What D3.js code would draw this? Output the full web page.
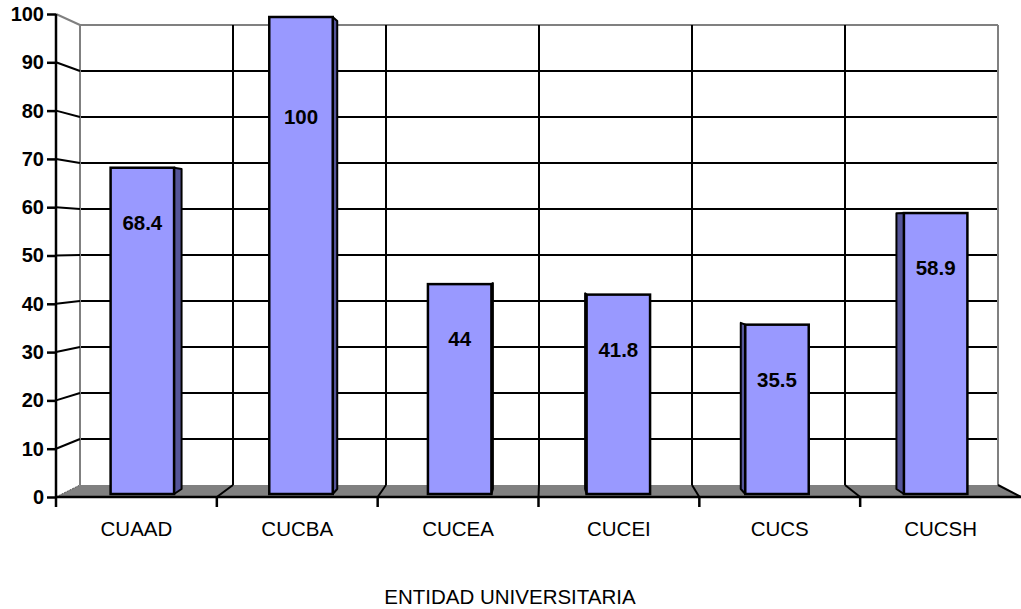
<!DOCTYPE html>
<html>
<head>
<meta charset="utf-8">
<script src="https://cdn.jsdelivr.net/npm/d3@7"></script>
<style>
  body { margin: 0; background: #fff; }
  text { font-family: Arial, "Liberation Sans", sans-serif; }
</style>
</head>
<body>
<div id="chart"></div>
<script>
var categories = ["CUAAD", "CUCBA", "CUCEA", "CUCEI", "CUCS", "CUCSH"];
var values = [68.4, 100, 44, 41.8, 35.5, 58.9];
var yTicks = [0, 10, 20, 30, 40, 50, 60, 70, 80, 90, 100];
var xTitle = "ENTIDAD UNIVERSITARIA";

var width = 1021, height = 609;

var svg = d3.select("#chart").append("svg")
    .attr("width", width)
    .attr("height", height);

// front plane (axis), back wall and the plane the bars stand in
var yFront = d3.scaleLinear().domain([0, 100]).range([497, 14]);
var yBack = d3.scaleLinear().domain([0, 100]).range([485, 25]);
var yBar = d3.scaleLinear().domain([0, 100]).range([494, 17]);
var yBarBack = d3.scaleLinear().domain([0, 100]).range([489, 21]);

var xFront = d3.scaleBand().domain(categories).range([56, 1021]);
var xBack = d3.scaleBand().domain(categories).range([80, 998]);
var xBar = d3.scaleBand().domain(categories).range([63, 1015])
    .paddingInner(0.6).paddingOuter(0.3);

var gray = "#808080";

// back wall
var wall = svg.append("g");
wall.append("line").attr("x1", 80).attr("x2", 80).attr("y1", yBack(100)).attr("y2", yBack(0))
    .attr("stroke", gray).attr("stroke-width", 2);
wall.append("line").attr("x1", 80).attr("x2", 998).attr("y1", yBack(100)).attr("y2", yBack(100))
    .attr("stroke", gray).attr("stroke-width", 2);
wall.append("line").attr("x1", 998).attr("x2", 998).attr("y1", yBack(100)).attr("y2", yBack(0))
    .attr("stroke", gray).attr("stroke-width", 2);

// horizontal gridlines (back wall + side wall)
var gridVals = yTicks.filter(function(d) { return d > 0 && d < 100; });
wall.selectAll(".hgrid").data(gridVals).enter().append("line")
    .attr("x1", 81).attr("x2", 997)
    .attr("y1", function(d) { return yBack(d); })
    .attr("y2", function(d) { return yBack(d); })
    .attr("stroke", "#000").attr("stroke-width", 2);
wall.selectAll(".sgrid").data(yTicks.filter(function(d) { return d > 0; })).enter().append("line")
    .attr("x1", 56).attr("x2", 80)
    .attr("y1", function(d) { return yFront(d); })
    .attr("y2", function(d) { return yBack(d); })
    .attr("stroke", function(d) { return d === 100 ? gray : "#000"; })
    .attr("stroke-width", 2);

// vertical gridlines on back wall
var inner = categories.slice(1);
wall.selectAll(".vgrid").data(inner).enter().append("line")
    .attr("x1", function(d) { return xBack(d); })
    .attr("x2", function(d) { return xBack(d); })
    .attr("y1", yBack(100)).attr("y2", yBack(0))
    .attr("stroke", "#000").attr("stroke-width", 2);

// floor
svg.append("path")
    .attr("d", "M56," + yFront(0) + "L80," + yBack(0) + "L998," + yBack(0) + "L1021," + yFront(0) + "Z")
    .attr("fill", gray);
svg.append("line").attr("x1", 998).attr("y1", yBack(0)).attr("x2", 1021).attr("y2", yFront(0))
    .attr("stroke", "#000").attr("stroke-width", 2);
svg.append("line").attr("x1", 56).attr("y1", yFront(0)).attr("x2", 80).attr("y2", yBack(0))
    .attr("stroke", "#555").attr("stroke-width", 1).attr("stroke-dasharray", "2,1");

svg.selectAll(".fgrid").data(inner).enter().append("line")
    .attr("x1", function(d) { return xBack(d); })
    .attr("y1", yBack(0))
    .attr("x2", function(d) { return xFront(d); })
    .attr("y2", yFront(0))
    .attr("stroke", "#000").attr("stroke-width", 2);

// bars
var bars = svg.selectAll(".bar").data(values).enter().append("g");
var bw = xBar.bandwidth();
function depth(i) { return (2.5 - i) * 3; }

bars.append("path")
    .attr("d", function(d, i) {
        var dx = depth(i);
        var x0 = xBar(categories[i]);
        var xe = dx > 0 ? x0 + bw : x0;
        return "M" + xe + "," + yBar(d) +
            "L" + (xe + dx) + "," + yBarBack(d) +
            "L" + (xe + dx) + "," + yBarBack(0) +
            "L" + xe + "," + yBar(0) + "Z";
    })
    .attr("fill", "#555599")
    .attr("stroke", "#000")
    .attr("stroke-width", 2)
    .attr("stroke-linejoin", "round");

bars.append("rect")
    .attr("x", function(d, i) { return xBar(categories[i]); })
    .attr("y", function(d) { return yBar(d); })
    .attr("width", bw)
    .attr("height", function(d) { return yBar(0) - yBar(d); })
    .attr("fill", "#9999FF")
    .attr("stroke", "#000")
    .attr("stroke-width", 2.5);

bars.append("text")
    .attr("x", function(d, i) { return xBar(categories[i]) + bw / 2; })
    .attr("y", function(d) { return Math.max(yBar(d) + 55, yBar(79)); })
    .attr("dy", "0.35em")
    .attr("text-anchor", "middle")
    .attr("font-size", "20.5px")
    .attr("font-weight", "bold")
    .text(function(d) { return d; });

// front axes
svg.append("line").attr("x1", 56).attr("x2", 1021).attr("y1", yFront(0)).attr("y2", yFront(0))
    .attr("stroke", "#000").attr("stroke-width", 2.5);
svg.append("line").attr("x1", 56).attr("x2", 56).attr("y1", yFront(100)).attr("y2", yFront(0) + 10)
    .attr("stroke", "#000").attr("stroke-width", 2.5);

var yAxis = svg.append("g")
    .attr("transform", "translate(56,0)")
    .call(d3.axisLeft(yFront).tickValues(yTicks).tickSize(9).tickPadding(3).tickSizeOuter(0));
yAxis.select(".domain").remove();
yAxis.selectAll(".tick line").attr("stroke", "#000").attr("stroke-width", 2.5);
yAxis.selectAll(".tick text")
    .attr("font-family", "Arial, 'Liberation Sans', sans-serif")
    .attr("font-size", "20px")
    .attr("font-weight", "bold")
    .attr("fill", "#000");

svg.selectAll(".xtick").data(inner).enter().append("line")
    .attr("x1", function(d) { return xFront(d); })
    .attr("x2", function(d) { return xFront(d); })
    .attr("y1", yFront(0)).attr("y2", yFront(0) + 10)
    .attr("stroke", "#000").attr("stroke-width", 2.5);

svg.selectAll(".xlabel").data(categories).enter().append("text")
    .attr("x", function(d) { return xFront(d) + xFront.bandwidth() / 2; })
    .attr("y", 536)
    .attr("text-anchor", "middle")
    .attr("font-size", "20.5px")
    .text(function(d) { return d; });

svg.append("text")
    .attr("x", 510)
    .attr("y", 604)
    .attr("text-anchor", "middle")
    .attr("font-size", "20.5px")
    .text(xTitle);
</script>
</body>
</html>
